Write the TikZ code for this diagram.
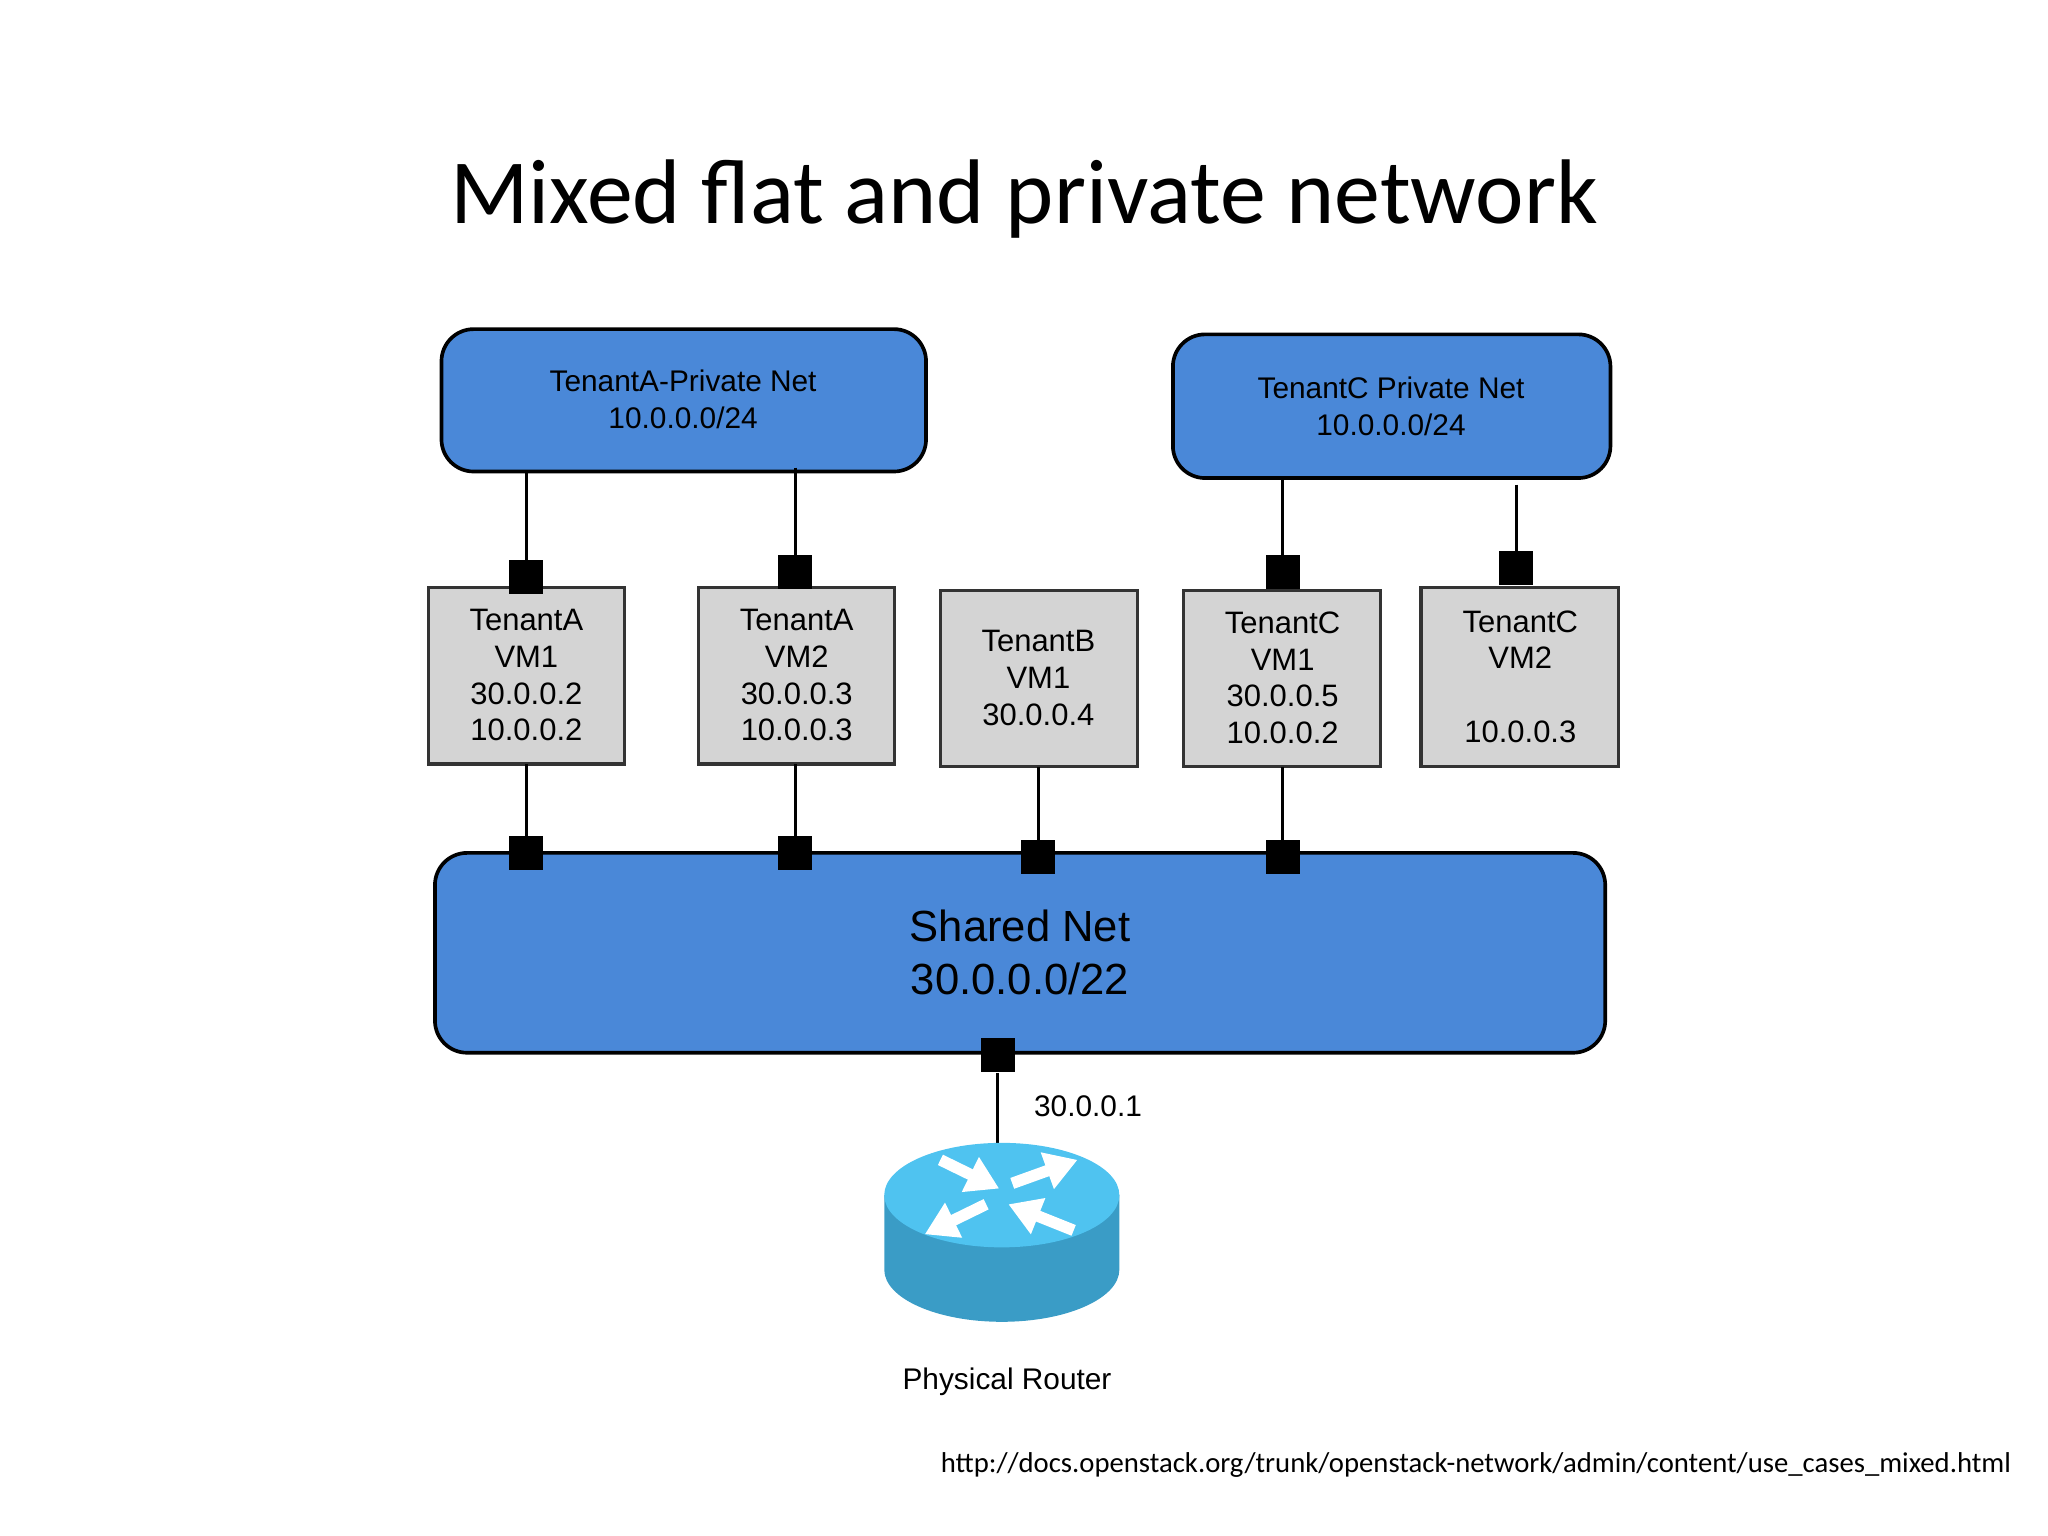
\documentclass[tikz,border=0pt]{standalone}
\usepackage{fontspec}
\usetikzlibrary{arrows.meta}
\setmainfont{Liberation Sans}
\newfontfamily\carl{Carlito}
\begin{document}
\begin{tikzpicture}[x=0.02cm,y=-0.02cm,
 net/.style={draw=black,line width=1.6pt,fill=netblue,rounded corners=14pt,align=center,font=\fontsize{13}{16}\selectfont},
 vm/.style={draw=black!80,line width=1.4pt,fill=black!17,align=center,font=\fontsize{13.5}{16}\selectfont,anchor=north west},
 port/.style={fill=black,minimum size=0.52cm,inner sep=0pt},
 wire/.style={line width=1.4pt}]
\definecolor{netblue}{HTML}{4A88D8}
\definecolor{rtop}{HTML}{4FC3F0}
\definecolor{rside}{HTML}{3A9CC6}
\useasboundingbox (0,0) rectangle (1568,1176);
\node[font=\carl\fontsize{40}{44}\selectfont] (title) at (784,152) {Mixed flat and private network};
% nets
\path[net] (338,252) rectangle (709,361);
\node[font=\fontsize{13}{16}\selectfont,align=center] (pa) at (523,306) {TenantA-Private Net\\10.0.0.0/24};
\path[net] (898,256) rectangle (1233,366);
\node[font=\fontsize{13}{16}\selectfont,align=center] (pc) at (1065,311) {TenantC Private Net\\10.0.0.0/24};
\path[net] (333,653) rectangle (1229,806);
\node[font=\fontsize{19}{23}\selectfont,align=center] (sh) at (781,729) {Shared Net\\30.0.0.0/22};
% VMs
\draw[vm] (328,450) rectangle (478,585);
\node[align=center,font=\fontsize{13.5}{16}\selectfont] (a1) at (403,517) {TenantA\\VM1\\30.0.0.2\\10.0.0.2};
\draw[vm] (535,450) rectangle (685,585);
\node[align=center,font=\fontsize{13.5}{16}\selectfont] (a2) at (610,517) {TenantA\\VM2\\30.0.0.3\\10.0.0.3};
\draw[vm] (720,452) rectangle (871,587);
\node[align=center,font=\fontsize{13.5}{16}\selectfont] (b1) at (795,519) {TenantB\\VM1\\30.0.0.4};
\draw[vm] (906,452) rectangle (1057,587);
\node[align=center,font=\fontsize{13.5}{16}\selectfont] (c1) at (982,519) {TenantC\\VM1\\30.0.0.5\\10.0.0.2};
\draw[vm] (1088,450) rectangle (1239,587);
\node[align=center,font=\fontsize{13.5}{16}\selectfont] (c2) at (1164,518) {TenantC\\VM2\\\phantom{0}\\10.0.0.3};
% wires
\draw[wire] (403,361) -- (403,440); \node[port] (p1) at (403,442) {};
\draw[wire] (609,358) -- (609,438); \node[port] (p2) at (609,438) {};
\draw[wire] (982,366) -- (982,438); \node[port] (p3) at (982,438) {};
\draw[wire] (1161,371) -- (1161,435); \node[port] (p4) at (1161,435) {};
\draw[wire] (403,585) -- (403,653); \node[port] (q1) at (403,653) {};
\draw[wire] (609,585) -- (609,653); \node[port] (q2) at (609,653) {};
\draw[wire] (795,587) -- (795,656); \node[port] (q3) at (795,656) {};
\draw[wire] (982,587) -- (982,656); \node[port] (q4) at (982,656) {};
\node[port] (r0) at (764,808) {};
\draw[wire] (r0) -- (764,882);
\node[font=\fontsize{13}{16}\selectfont] (ip) at (833,847) {30.0.0.1};
% router
\fill[rside] (677,915) -- (677,972) arc[start angle=180,end angle=0,x radius=90,y radius=40] -- (857,915) -- cycle;
\fill[rtop] (767,915) ellipse[x radius=90,y radius=40];
\begin{scope}[white,line width=5pt]
\draw[-{Triangle[length=14pt,width=16pt]}] (720,888) -- (765,910);
\draw[-{Triangle[length=14pt,width=16pt]}] (775,906) -- (825,888);
\draw[-{Triangle[length=14pt,width=16pt]}] (755,922) -- (708,945);
\draw[-{Triangle[length=14pt,width=16pt]}] (822,942) -- (772,922);
\end{scope}
\node[font=\fontsize{13}{16}\selectfont] (rl) at (771,1058) {Physical Router};
\node[font=\carl\fontsize{12.5}{15}\selectfont] (url) at (1130,1122) {http://docs.openstack.org/trunk/openstack-network/admin/content/use\_cases\_mixed.html};
\end{tikzpicture}
\end{document}
